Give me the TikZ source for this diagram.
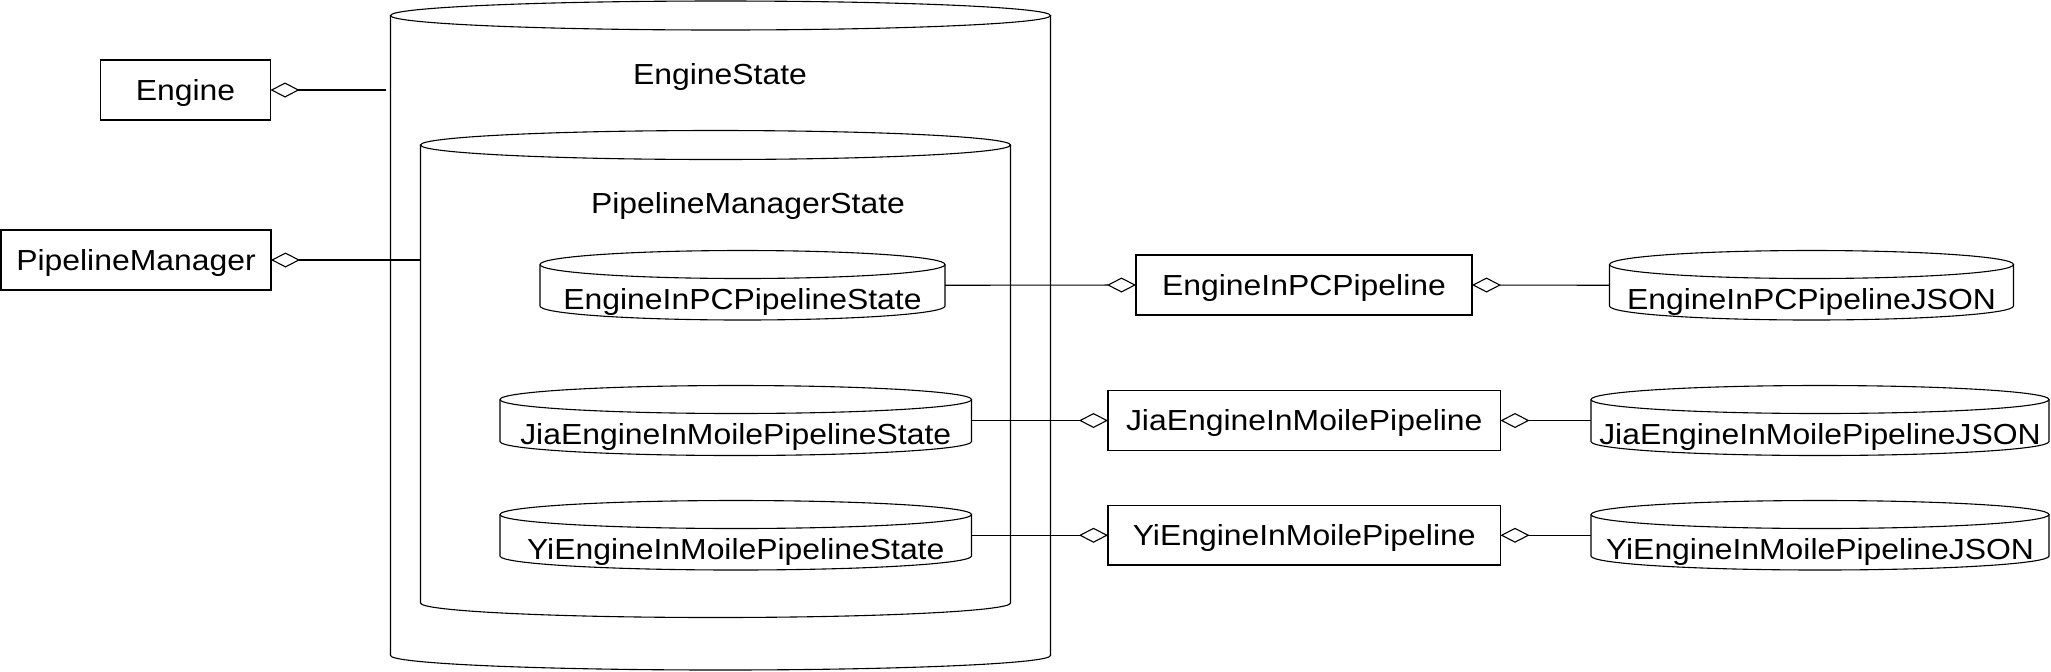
\documentclass[tikz,border=0pt]{standalone}
\usepackage{fontspec}
\setmainfont{Liberation Sans}[FakeStretch=1.1]
\usetikzlibrary{arrows.meta,fit}
\tikzset{
  ln/.style={draw=black, line width=0.55pt},
  lbl/.style={font=\fontsize{14.5pt}{17pt}\selectfont, text height=10.3pt, text depth=0pt, inner sep=0pt},
  umlbox/.style={ln, lbl, outer sep=0pt},
  agg/.style={ln, -{Diamond[open, length=14.5pt, width=7.5pt]}},
}
\newcommand\mycyl[6]{%
  \pgfmathsetmacro\mycx{(#2+#4)/2}%
  \pgfmathsetmacro\myrx{(#4-#2)/2}%
  \pgfmathsetmacro\myya{#3+#6}%
  \pgfmathsetmacro\myyb{#5-#6}%
  \node[fit={(#2,#3) (#4,#5)}, inner sep=0pt, outer sep=0pt] (#1) {};
  \draw[ln] (\mycx,\myya) ellipse [x radius=\myrx, y radius=#6];
  \draw[ln] (#2,\myya) -- (#2,\myyb) arc[start angle=180, end angle=0, x radius=\myrx, y radius=#6] -- (#4,\myya);
}
\begin{document}
\begin{tikzpicture}[x=0.5pt, y=-0.5pt]
\useasboundingbox (0,0) rectangle (2051,671);

% cylinders
\mycyl{outer}{390.5}{1}{1050.5}{670}{14.5}
\mycyl{inner}{420.5}{130.5}{1010.5}{617.5}{14.5}
\mycyl{pcstate}{540}{250.5}{945}{320}{14}
\mycyl{jiastate}{500}{385.5}{971.5}{455.5}{14}
\mycyl{yistate}{500}{500.5}{971.5}{570}{14}
\mycyl{pcjson}{1609.5}{250.5}{2013.5}{320}{14}
\mycyl{jiajson}{1591}{385.5}{2049}{455.5}{14}
\mycyl{yijson}{1591}{500.5}{2049}{570}{14}

% cylinder labels
\node[lbl] (outerl) at (720,74.2) {EngineState};
\node[lbl] (innerl) at (748,203) {PipelineManagerState};
\node[lbl] (pcstatel) at (742.5,299) {EngineInPCPipelineState};
\node[lbl] (jiastatel) at (735.75,434.5) {JiaEngineInMoilePipelineState};
\node[lbl] (yistatel) at (735.75,549) {YiEngineInMoilePipelineState};
\node[lbl] (pcjsonl) at (1811.5,299) {EngineInPCPipelineJSON};
\node[lbl] (jiajsonl) at (1820,434.5) {JiaEngineInMoilePipelineJSON};
\node[lbl] (yijsonl) at (1820,549) {YiEngineInMoilePipelineJSON};

% boxes
\node[umlbox, minimum width=85pt, minimum height=30pt] (engine) at (185.5,90) {Engine};
\node[umlbox, minimum width=135pt, minimum height=30pt] (pm) at (136,260) {PipelineManager};
\node[umlbox, minimum width=168pt, minimum height=30pt] (pcpipe) at (1304,285) {EngineInPCPipeline};
\node[umlbox, minimum width=196.25pt, minimum height=30pt] (jiapipe) at (1304.25,420.5) {JiaEngineInMoilePipeline};
\node[umlbox, minimum width=196.25pt, minimum height=29.75pt] (yipipe) at (1304.25,535.25) {YiEngineInMoilePipeline};

% connectors
\coordinate (c1) at (386,90);
\draw[agg] (c1) -- (engine.east);
\draw[agg] (pm.east -| inner.west) -- (pm.east);
\draw[agg] (pcstate.east) -- (pcpipe.west);
\draw[agg] (pcjson.west) -- (pcpipe.east);
\draw[agg] (jiastate.east) -- (jiapipe.west);
\draw[agg] (jiajson.west) -- (jiapipe.east);
\draw[agg] (yistate.east) -- (yipipe.west);
\draw[agg] (yijson.west) -- (yipipe.east);
\end{tikzpicture}
\end{document}
